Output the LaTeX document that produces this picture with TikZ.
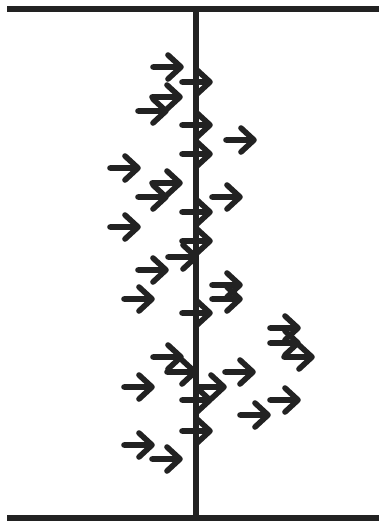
\documentclass[tikz,border=0pt]{standalone}
\usepackage{tikz}
\definecolor{strich}{HTML}{222222}

\begin{document}
\begin{tikzpicture}[x=0.5pt, y=-0.5pt,
    wand/.style={strich, line width=3pt},
    pfeil/.style={strich, line width=2.8pt, line cap=round, line join=round}]
			\useasboundingbox (0,0) rectangle (379,521);
			
			% Obere und untere Platte
			\draw[wand] (7,9) coordinate (ol) -- (379,9) coordinate (or);
			\draw[wand] (7,518) coordinate (ul) -- (379,518) coordinate (ur);
			
			% Mittlere Wand
			\coordinate (wo) at (196,9);
			\coordinate (wu) at (196,518);
			\draw[wand] (wo) -- (wu);
			
			% Pfeile (Startpunkt links)
			\foreach \x/\y in {153/67, 182/82, 152/97, 138/111, 182/125, 226/140, 182/154,
			                   110/168, 152/183, 138/197, 212/197, 182/212, 110/227, 182/241,
			                   168/257, 138/270, 212/285, 212/299, 124/299, 182/313,
			                   270/328, 270/343, 284/357, 153/357, 167/372, 225/372,
			                   124/387, 196/387, 182/400, 270/400, 240/415, 182/431,
			                   124/445, 152/459}
				\draw[pfeil] (\x,\y) -- ++(28,0) ++(-13,-12) -- ++(13,12) -- ++(-13,12);
		\end{tikzpicture}
\end{document}
